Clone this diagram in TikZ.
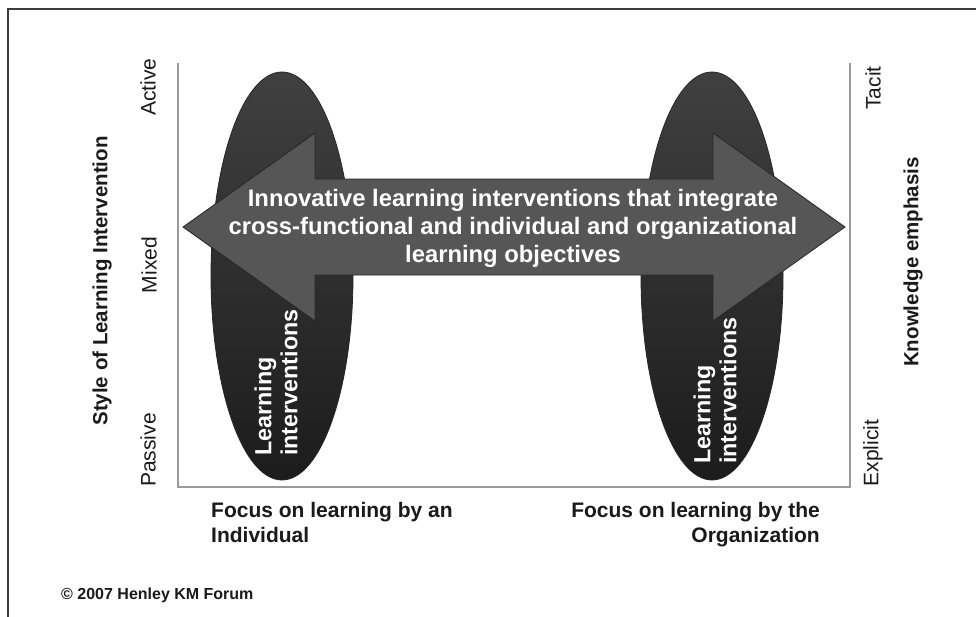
\documentclass[tikz,border=0pt]{standalone}
\usepackage{fontspec}
\setmainfont{Liberation Sans}
\usetikzlibrary{shapes.geometric}
\definecolor{inkdark}{HTML}{1A1A1A}
\definecolor{axisgray}{HTML}{9A9A9A}
\definecolor{arrowfill}{HTML}{565656}
\definecolor{arrowedge}{HTML}{262626}
\definecolor{ovaltop}{HTML}{404040}
\definecolor{ovalbottom}{HTML}{1C1C1C}
\tikzset{
  oval/.style={ellipse, minimum width=142pt, minimum height=408pt, inner sep=0pt,
    draw=arrowedge, line width=0.8pt, top color=ovaltop, bottom color=ovalbottom},
  axisline/.style={draw=axisgray, line width=1.3pt},
  scalelabel/.style={rotate=90, text=inkdark, font=\fontsize{21}{24}\selectfont, inner sep=0pt},
  axistitle/.style={rotate=90, text=inkdark, font=\bfseries\fontsize{20.5}{24}\selectfont, inner sep=0pt},
  focuslabel/.style={text=inkdark, font=\bfseries\fontsize{21}{25}\selectfont, inner sep=0pt},
  ovaltext/.style={rotate=90, text=white, align=left, inner sep=0pt,
    font=\bfseries\fontsize{23.3}{26}\selectfont},
}
\begin{document}
\begin{tikzpicture}[x=1pt, y=-1pt]
  \useasboundingbox (0,0) rectangle (976,616);
  \clip (0,0) rectangle (976,616);
  \fill[white] (0,0) rectangle (976,616);
  % page frame
  \draw[line width=1.4pt, draw=inkdark!85] (8,640) -- (8,9) -- (1000,9);

  % axes of the chart
  \coordinate (tl) at (178,63);
  \coordinate (bl) at (178,487);
  \coordinate (br) at (850,487);
  \coordinate (tr) at (850,63);
  \draw[axisline] (tl) -- (bl) -- (br) -- (tr);

  % the two groups of learning interventions
  \node[oval] (indiv) at (282,276) {};
  \node[oval] (organ) at (712,276) {};

  % double-headed arrow linking both foci
  \draw[fill=arrowfill, draw=arrowedge, line width=0.8pt, line join=miter]
    (183,227) -- (315,133) -- (315,179) -- (713,179) -- (713,133) -- (845,227)
    -- (713,321) -- (713,275) -- (315,275) -- (315,321) -- cycle;
  \node[text=white, align=center, inner sep=0pt,
        font=\bfseries\fontsize{23.8}{28}\selectfont] (link) at (513,228)
    {Innovative learning interventions that integrate\\
     cross-functional and individual and organizational\\
     learning objectives};

  % labels inside the ovals
  \node[ovaltext, anchor=west] (indivtxt) at (276,456) {Learning\\interventions};
  \node[ovaltext, anchor=west] (organtxt) at (715,464) {Learning\\interventions};

  % left scale
  \node[axistitle] (style) at (102,281) {Style of Learning Intervention};
  \node[scalelabel] (active) at (148,87) {Active};
  \node[scalelabel] (mixed) at (149,265) {Mixed};
  \node[scalelabel] (passive) at (148,450) {Passive};

  % right scale
  \node[scalelabel] (tacit) at (873,88) {Tacit};
  \node[scalelabel] (explicit) at (873,453) {Explicit};
  \node[axistitle] (emph) at (913,262) {Knowledge emphasis};

  % bottom captions
  \node[focuslabel, anchor=north west, align=left] (fleft) at (211,502)
    {Focus on learning by an\\Individual};
  \node[focuslabel, anchor=north east, align=right] (fright) at (820,502)
    {Focus on learning by the\\Organization};

  \node[text=inkdark, font=\bfseries\fontsize{16}{18}\selectfont, anchor=west, inner sep=0pt]
    (copy) at (61,595) {© 2007 Henley KM Forum};
\end{tikzpicture}
\end{document}
